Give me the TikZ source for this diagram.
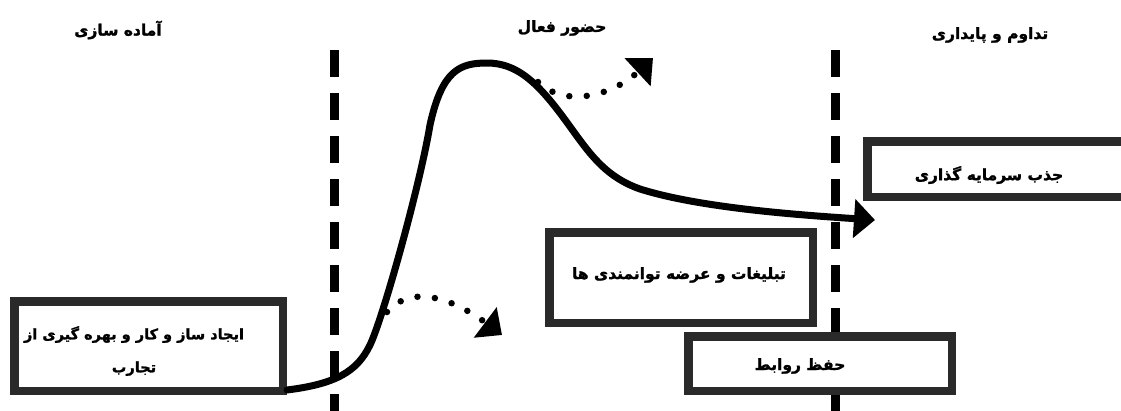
\documentclass[tikz,border=0pt]{standalone}
\usepackage{fontspec}
\setmainfont{DejaVu Sans}
\newfontfamily\arabicfont[Script=Arabic, BoldFeatures={FakeBold=1.5}]{DejaVu Sans}
\TeXXeTstate=1
\usetikzlibrary{arrows.meta}
\definecolor{boxgray}{HTML}{2A2A2A}
\begin{document}
\begin{tikzpicture}[x=1pt,y=-1pt,
  sepline/.style={line width=9pt, dash pattern=on 27pt off 16pt},
  box/.style={draw=boxgray, fill=white, line width=8.5pt, inner sep=0pt},
  lbl/.style={font=\arabicfont\bfseries\fontsize{15.5}{33}\selectfont, align=center, inner sep=0pt},
  curve/.style={line width=7pt, line cap=round},
  dots/.style={line width=6.5pt, line cap=round, dash pattern=on 0pt off 17.5pt},
]
\clip (0,0) rectangle (1121,410);
\fill[white] (0,0) rectangle (1121,410);
% separators
\coordinate (s1t) at (334,50); \coordinate (s1b) at (334,414);
\coordinate (s2t) at (835,50); \coordinate (s2b) at (835,414);
\draw[sepline] (s1t) -- (s1b);
\draw[sepline] (s2t) -- (s2b);
% headers
\node[lbl] (h1) at (118,30) {\beginR آماده سازی\endR};
\node[lbl] (h2) at (562,28) {\beginR حضور فعال\endR};
\node[lbl] (h3) at (990,35) {\beginR تداوم و پایداری\endR};
% boxes
\node[box, minimum width=268.5pt, minimum height=89.5pt] (b1) at (148.5,346) {};
\node[lbl, font=\arabicfont\bfseries\fontsize{14.5}{33}\selectfont] (t1) at (134,351) {\beginR ایجاد ساز و کار و بهره گیری از\endR\\\beginR تجارب\endR};
\node[box, minimum width=263.5pt, minimum height=90.5pt] (b2) at (681,277.5) {};
\node[lbl] (t2) at (679,275) {\beginR تبلیغات و عرضه توانمندی ها\endR};
\node[box, minimum width=263.5pt, minimum height=54.5pt] (b3) at (820,363.5) {};
\node[lbl] (t3) at (800,366) {\beginR حفظ روابط\endR};
\node[box, minimum width=268.5pt, minimum height=55.5pt] (b4) at (1001.5,169) {};
\node[lbl] (t4) at (989,175) {\beginR جذب سرمایه گذاری\endR};
% main curve
\coordinate (c0) at (287,390);
\coordinate (cend) at (875,220);
\draw[curve, -{Triangle[width=38pt,length=21pt]}] (c0)
  .. controls (335,384) and (357,372) .. (370,345)
  .. controls (383,318) and (420,185) .. (430,125)
  .. controls (442,70) and (460,63) .. (487,63)
  .. controls (515,63) and (535,80) .. (560,113)
  .. controls (585,146) and (600,175) .. (640,189)
  .. controls (700,208) and (800,215) .. (cend);
% dotted arrows
\coordinate (d1s) at (387,312); \coordinate (d1e) at (502,335);
\coordinate (d2s) at (538,82); \coordinate (d2e) at (653,58);
\draw[dots, -{Triangle[width=37pt,length=21pt]}] (d1s) .. controls (415,280) and (462,305) .. (d1e);
\draw[dots, -{Triangle[width=37pt,length=21pt]}] (d2s) .. controls (565,108) and (612,96) .. (d2e);
\end{tikzpicture}
\end{document}
